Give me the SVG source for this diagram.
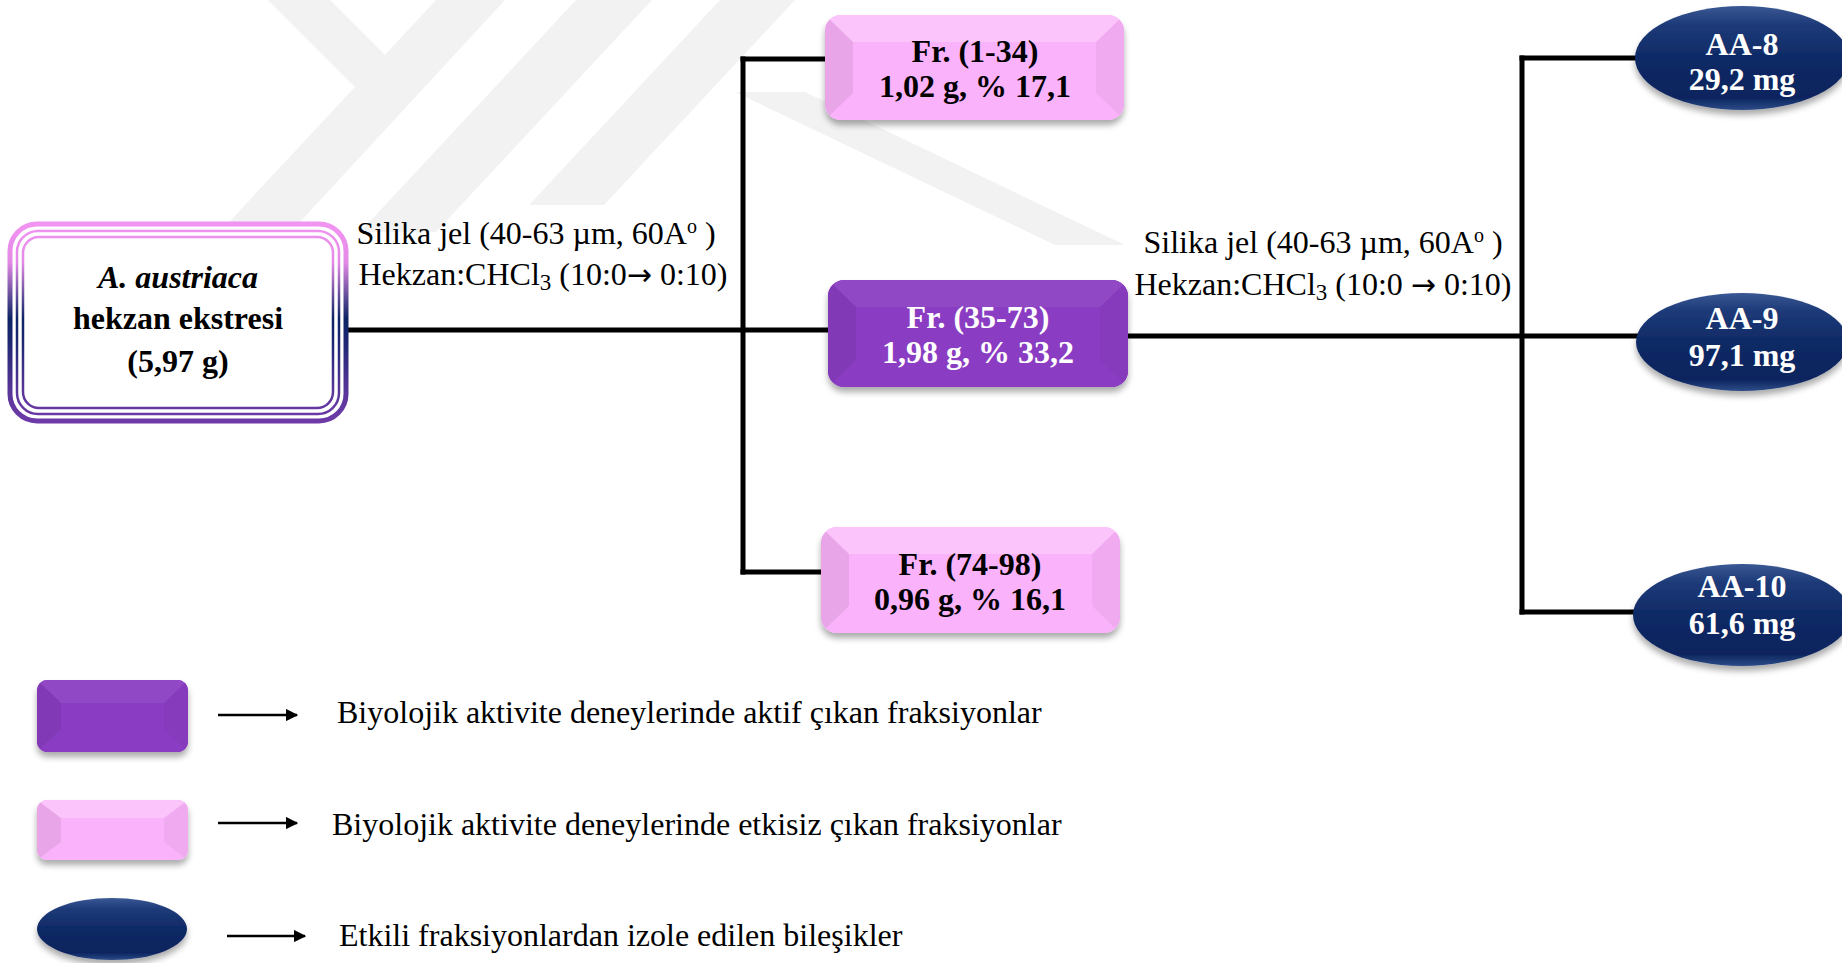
<svg xmlns="http://www.w3.org/2000/svg" width="1842" height="963" viewBox="0 0 1842 963">
  <style>
    text { font-family: "Liberation Serif", "Times New Roman", serif; font-size: 32px; fill: #000; }
    .b { font-weight: bold; text-anchor: middle; }
    .w { fill: #fff; }
    .lbl { text-anchor: middle; }
    .arr { font-family: "DejaVu Sans", sans-serif; font-size: 30px; }
    .wire { stroke: #000; stroke-width: 5; fill: none; stroke-linecap: square; }
    .pink { fill: #fab2fa; }
    .purple { fill: #8a3dc2; }
    .hi { fill: #fff; opacity: 0.24; }
    .dk { fill: #000; opacity: 0.07; }
    .dk2 { fill: #000; opacity: 0.04; }
    .hi-p { fill: #fff; opacity: 0.06; }
    .dk-p { fill: #000; opacity: 0.06; }
    .dk2-p { fill: #000; opacity: 0.03; }
    .wm { fill: #f2f2f2; }
    .arrow { stroke: #000; stroke-width: 2.5; }
  </style>
  <defs>
    <filter id="shadow" x="-10%" y="-20%" width="120%" height="160%">
      <feDropShadow dx="0" dy="5" stdDeviation="3" flood-color="#000" flood-opacity="0.33"/>
    </filter>
    <clipPath id="boxClip" clipPathUnits="objectBoundingBox">
      <rect x="0" y="0" width="1" height="1" rx="0.055" ry="0.15"/>
    </clipPath>
    <clipPath id="keyClip" clipPathUnits="objectBoundingBox">
      <rect x="0" y="0" width="1" height="1" rx="0.07" ry="0.16"/>
    </clipPath>
    <linearGradient id="frame" gradientUnits="userSpaceOnUse" x1="0" y1="222" x2="0" y2="423">
      <stop offset="0" stop-color="#f294f2"/>
      <stop offset="0.2" stop-color="#e48ae6"/>
      <stop offset="0.48" stop-color="#0d2466"/>
      <stop offset="0.58" stop-color="#1a2670"/>
      <stop offset="0.85" stop-color="#5a369a"/>
      <stop offset="1" stop-color="#6e3aa8"/>
    </linearGradient>
    <linearGradient id="navy" x1="0" y1="0" x2="0" y2="1">
      <stop offset="0" stop-color="#3a5894"/>
      <stop offset="0.18" stop-color="#1d3a78"/>
      <stop offset="0.5" stop-color="#0f2a66"/>
      <stop offset="0.88" stop-color="#0b245e"/>
      <stop offset="1" stop-color="#2d4c88"/>
    </linearGradient>
    <marker id="head" viewBox="0 0 10 10" refX="9" refY="5" markerWidth="5" markerHeight="5" orient="auto" markerUnits="strokeWidth">
      <path d="M0,0 L10,5 L0,10 z" fill="#000"/>
    </marker>
  </defs>

  <rect width="1842" height="963" fill="#fff"/>

  <!-- faint background emblem -->
  <g id="emblem">
    <polygon class="wm" points="268,0 330,0 385,55 355,87"/>
    <polygon class="wm" points="436,0 505,0 288,235 217,235"/>
    <polygon class="wm" points="576,0 652,0 436,232 360,232"/>
    <polygon class="wm" points="720,0 795,0 604,205 529,205"/>
    <polygon class="wm" points="735,92 805,92 1125,245 1055,245"/>
  </g>

  <!-- connectors -->
  <g id="connectors">
    <line class="wire" x1="347" y1="330" x2="828" y2="330"/>
    <line class="wire" x1="743" y1="59" x2="743" y2="572"/>
    <line class="wire" x1="743" y1="59" x2="825" y2="59"/>
    <line class="wire" x1="743" y1="572" x2="821" y2="572"/>
    <line class="wire" x1="1128" y1="336" x2="1640" y2="336"/>
    <line class="wire" x1="1522" y1="58" x2="1522" y2="612"/>
    <line class="wire" x1="1522" y1="58" x2="1638" y2="58"/>
    <line class="wire" x1="1522" y1="612" x2="1636" y2="612"/>
  </g>

  <!-- edge labels -->
  <g id="labels">
    <text class="lbl" x="536" y="244">Silika jel (40-63 µm, 60A<tspan dy="-11" font-size="20">o</tspan><tspan dy="11"> )</tspan></text>
    <text class="lbl" x="543" y="285">Hekzan:CHCl<tspan dy="5" font-size="23">3</tspan><tspan dy="-5"> (10:0</tspan><tspan class="arr">→</tspan> 0:10)</text>
    <text class="lbl" x="1323" y="253">Silika jel (40-63 µm, 60A<tspan dy="-11" font-size="20">o</tspan><tspan dy="11"> )</tspan></text>
    <text class="lbl" x="1323" y="295">Hekzan:CHCl<tspan dy="5" font-size="23">3</tspan><tspan dy="-5"> (10:0 </tspan><tspan class="arr">→</tspan> 0:10)</text>
  </g>

  <!-- start extract -->
  <g id="extract">
    <rect x="10" y="224" width="336" height="197" rx="27" fill="#fff" stroke="url(#frame)" stroke-width="5"/>
    <rect x="17" y="231" width="322" height="183" rx="21" fill="none" stroke="url(#frame)" stroke-width="2.5"/>
    <rect x="23" y="237" width="310" height="171" rx="16" fill="none" stroke="url(#frame)" stroke-width="2.5"/>
    <text class="b" x="178" y="288" font-style="italic">A. austriaca</text>
    <text class="b" x="178" y="329">hekzan ekstresi</text>
    <text class="b" x="178" y="372">(5,97 g)</text>
  </g>

  <!-- fraction 1-34 -->
  <g id="fr1">
    <rect x="825" y="15" width="299" height="105" rx="16" class="pink" filter="url(#shadow)"/>
    <g clip-path="url(#boxClip)">
      <rect x="825" y="15" width="299" height="105" class="pink"/>
      <polygon class="hi" points="825,15 1124,15 1096,42 853,42"/>
      <polygon class="dk" points="825,15 853,42 853,93 825,120"/>
      <polygon class="dk2" points="1124,15 1096,42 1096,93 1124,120"/>
    </g>
    <text class="b" x="975" y="62">Fr. (1-34)</text>
    <text class="b" x="975" y="97">1,02 g, % 17,1</text>
  </g>

  <!-- fraction 35-73 (active) -->
  <g id="fr2">
    <rect x="828" y="280" width="300" height="107" rx="16" class="purple" filter="url(#shadow)"/>
    <g clip-path="url(#boxClip)">
      <rect x="828" y="280" width="300" height="107" class="purple"/>
      <polygon class="hi-p" points="828,280 1128,280 1100,307 856,307"/>
      <polygon class="dk-p" points="828,280 856,307 856,360 828,387"/>
      <polygon class="dk2-p" points="1128,280 1100,307 1100,360 1128,387"/>
    </g>
    <text class="b w" x="978" y="328">Fr. (35-73)</text>
    <text class="b w" x="978" y="363">1,98 g, % 33,2</text>
  </g>

  <!-- fraction 74-98 -->
  <g id="fr3">
    <rect x="821" y="527" width="299" height="106" rx="16" class="pink" filter="url(#shadow)"/>
    <g clip-path="url(#boxClip)">
      <rect x="821" y="527" width="299" height="106" class="pink"/>
      <polygon class="hi" points="821,527 1120,527 1092,554 849,554"/>
      <polygon class="dk" points="821,527 849,554 849,606 821,633"/>
      <polygon class="dk2" points="1120,527 1092,554 1092,606 1120,633"/>
    </g>
    <text class="b" x="970" y="575">Fr. (74-98)</text>
    <text class="b" x="970" y="610">0,96 g, % 16,1</text>
  </g>

  <!-- isolated compounds -->
  <g id="aa8">
    <ellipse cx="1742" cy="58" rx="107" ry="52" fill="url(#navy)" filter="url(#shadow)"/>
    <text class="b w" x="1742" y="55">AA-8</text>
    <text class="b w" x="1742" y="90">29,2 mg</text>
  </g>
  <g id="aa9">
    <ellipse cx="1742" cy="342" rx="106" ry="49" fill="url(#navy)" filter="url(#shadow)"/>
    <text class="b w" x="1742" y="329">AA-9</text>
    <text class="b w" x="1742" y="366">97,1 mg</text>
  </g>
  <g id="aa10">
    <ellipse cx="1742" cy="615" rx="109" ry="51" fill="url(#navy)" filter="url(#shadow)"/>
    <text class="b w" x="1742" y="597">AA-10</text>
    <text class="b w" x="1742" y="634">61,6 mg</text>
  </g>

  <!-- key -->
  <g id="key-active">
    <rect x="37" y="680" width="151" height="72" rx="10" class="purple" filter="url(#shadow)"/>
    <g clip-path="url(#keyClip)">
      <rect x="37" y="680" width="151" height="72" class="purple"/>
      <polygon class="hi-p" points="37,680 188,680 164,703 61,703"/>
      <polygon class="dk-p" points="37,680 61,703 61,729 37,752"/>
      <polygon class="dk2-p" points="188,680 164,703 164,729 188,752"/>
    </g>
    <line class="arrow" x1="218" y1="715" x2="297" y2="715" marker-end="url(#head)"/>
    <text x="337" y="723">Biyolojik aktivite deneylerinde aktif çıkan fraksiyonlar</text>
  </g>
  <g id="key-inactive">
    <rect x="37" y="800" width="151" height="60" rx="10" class="pink" filter="url(#shadow)"/>
    <g clip-path="url(#keyClip)">
      <rect x="37" y="800" width="151" height="60" class="pink"/>
      <polygon class="hi" points="37,800 188,800 164,818 61,818"/>
      <polygon class="dk" points="37,800 61,818 61,842 37,860"/>
      <polygon class="dk2" points="188,800 164,818 164,842 188,860"/>
    </g>
    <line class="arrow" x1="218" y1="823" x2="297" y2="823" marker-end="url(#head)"/>
    <text x="332" y="835">Biyolojik aktivite deneylerinde etkisiz çıkan fraksiyonlar</text>
  </g>
  <g id="key-compound">
    <ellipse cx="112" cy="929" rx="75" ry="31" fill="url(#navy)" filter="url(#shadow)"/>
    <line class="arrow" x1="227" y1="936" x2="305" y2="936" marker-end="url(#head)"/>
    <text x="339" y="946">Etkili fraksiyonlardan izole edilen bileşikler</text>
  </g>
</svg>
